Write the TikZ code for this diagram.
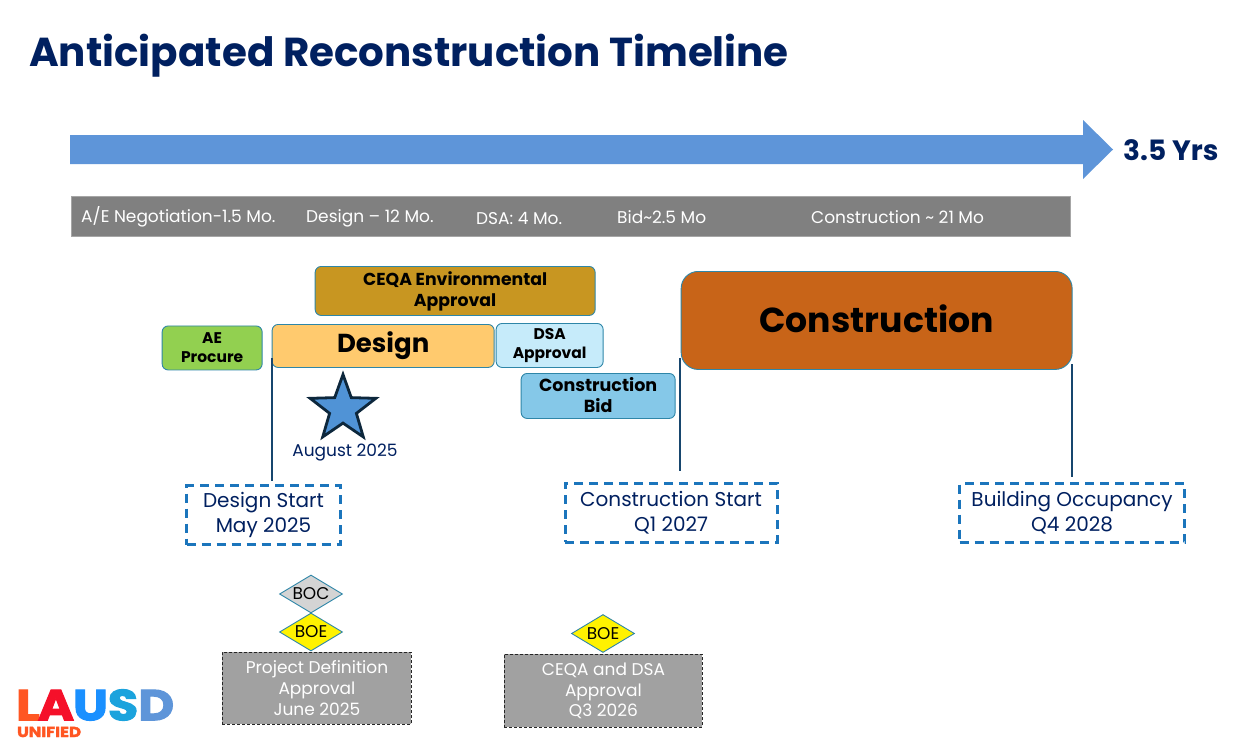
\documentclass[tikz,border=0pt]{standalone}
\usepackage{fontspec}
\setmainfont{Poppins}
\newfontfamily\fatfont[FakeBold=2.5,FakeStretch=1.14]{Poppins Bold}
\usetikzlibrary{shapes.geometric,shapes.arrows}
\definecolor{navy}{HTML}{002060}
\definecolor{bluearrow}{HTML}{5E95D9}
\definecolor{barg}{HTML}{808080}
\definecolor{edgeb}{HTML}{2E86A8}
\definecolor{linec}{HTML}{17466E}
\definecolor{dashb}{HTML}{1B75BC}
\tikzset{
 x=1pt,y=-1pt,
 phase/.style={draw=edgeb,line width=0.9pt,rounded corners=#1,font=\bfseries,text=black,align=center,inner sep=0pt,anchor=north west},
 phase/.default=6pt,
 milestone/.style={draw=dashb,line width=3pt,outer sep=0pt,dash pattern=on 9pt off 6pt,font=\fontsize{20}{25}\selectfont,text=navy,align=center,inner sep=0pt,anchor=north west},
 approval/.style={draw=black!85,densely dashed,line width=0.9pt,fill=black!37,text=white,font=\fontsize{17}{20.8}\selectfont,align=center,inner sep=0pt,anchor=north west},
 board/.style={diamond,draw=edgeb,line width=0.9pt,aspect=1.66,inner sep=0pt,minimum width=63pt,minimum height=38pt,text=black,font=\fontsize{17}{18}\selectfont},
 barlabel/.style={text=white,font=\fontsize{17}{20}\selectfont,inner sep=0pt},
 tie/.style={draw=linec,line width=1.6pt},
}
\begin{document}
\begin{tikzpicture}
\useasboundingbox (0,0) rectangle (1237,755);
\fill[white] (0,0) rectangle (1237,755);
\node[anchor=west,inner sep=0pt,text=navy,font=\bfseries\fontsize{40.4}{46}\selectfont] (title) at (29,56) {Anticipated Reconstruction Timeline};
\fill[bluearrow] (70,135) -- (1083,135) -- (1083,120) -- (1113,149.5) -- (1083,179) -- (1083,164) -- (70,164) -- cycle;
\node[anchor=west,inner sep=0pt,text=navy,font=\fontsize{28}{32}\selectfont\bfseries] (yrs) at (1123,150) {3.5 Yrs};
\node[anchor=north west,inner sep=0pt,draw=black!35,line width=0.6pt,fill=barg,minimum width=999pt,minimum height=40pt] (bar) at (71,195.5) {};
\node[barlabel,anchor=west] (l1) at (81,217) {A/E Negotiation-1.5 Mo.};
\node[barlabel,anchor=west] (l2) at (306,218) {Design – 12 Mo.};
\node[barlabel,anchor=west] (l3) at (476,218) {DSA: 4 Mo.};
\node[barlabel,anchor=west] (l4) at (617,217) {Bid\textasciitilde 2.5 Mo};
\node[barlabel,anchor=west] (l5) at (811,217) {Construction \textasciitilde{} 21 Mo};
% phases
\node[phase,fill={rgb,255:red,200;green,150;blue,33},minimum width=280pt,minimum height=49pt,font=\bfseries\fontsize{17.3}{21}\selectfont] (ceqa) at (314.7,266) {CEQA Environmental\\Approval};
\node[phase,fill={rgb,255:red,146;green,208;blue,80},minimum width=100pt,minimum height=44pt,font=\bfseries\fontsize{15.5}{19}\selectfont] (ae) at (161.7,325.5) {AE\\Procure};
\node[phase,fill={rgb,255:red,255;green,202;blue,110},minimum width=222pt,minimum height=43pt,font=\bfseries\fontsize{26}{30}\selectfont] (design) at (271.7,324) {\raisebox{-2pt}{Design}};
\node[phase,fill={rgb,255:red,198;green,235;blue,250},minimum width=107pt,minimum height=44pt,font=\bfseries\fontsize{15.5}{19}\selectfont] (dsa) at (495.7,323) {\raisebox{-1pt}{DSA}\\\raisebox{-1pt}{Approval}};
\node[phase,fill={rgb,255:red,133;green,200;blue,232},minimum width=154pt,minimum height=45pt,font=\bfseries\fontsize{17.5}{21}\selectfont] (bid) at (520.7,373) {\raisebox{1pt}{Construction}\\\raisebox{1pt}{Bid}};
\node[phase=17pt,fill={rgb,255:red,200;green,100;blue,24},minimum width=391pt,minimum height=98pt,font=\bfseries\fontsize{34.7}{40}\selectfont] (cons) at (680.7,271) {\raisebox{4.5pt}{Construction}};
% star
\node[star,star points=5,star point ratio=2.45,draw=linec!55!black,line width=2.8pt,fill={rgb,255:red,80;green,147;blue,214},inner sep=0pt,minimum size=69pt] (star) at (343,409) {};
\node[inner sep=0pt,text=navy,font=\fontsize{17}{20}\selectfont] (aug) at (345,452.5) {August 2025};
% milestones
\node[milestone,minimum width=154pt,minimum height=59pt] (m1) at (186.5,485.5) {Design Start\\May 2025};
\node[milestone,minimum width=212pt,minimum height=59pt] (m2) at (565,483) {Construction Start\\Q1 2027};
\node[milestone,minimum width=225pt,minimum height=59pt] (m3) at (959.5,483.5) {Building Occupancy\\Q4 2028};
\coordinate (t1a) at (272,358); \coordinate (t1b) at (272,481);
\coordinate (t2a) at (680,358); \coordinate (t2b) at (680,471);
\coordinate (t3a) at (1072,364); \coordinate (t3b) at (1072,477);
\draw[tie] (t1a) -- (t1b);
\draw[tie] (t2a) -- (t2b);
\draw[tie] (t3a) -- (t3b);
% boards
\node[board,fill=black!17] (boc) at (311,594) {BOC};
\node[board,fill=yellow] (boe1) at (311,632) {BOE};
\node[board,fill=yellow] (boe2) at (603,633.5) {BOE};
\node[approval,minimum width=189pt,minimum height=72pt] (a1) at (222,652) {\raisebox{1pt}{Project Definition}\\\raisebox{1pt}{Approval}\\\raisebox{1pt}{June 2025}};
\node[approval,minimum width=198pt,minimum height=73pt] (a2) at (504,654) {CEQA and DSA\\Approval\\Q3 2026};
% logo
\node[anchor=west,inner sep=0pt,font=\fatfont\fontsize{43.3}{44}\selectfont] (logo) at (16,705) {\textcolor[HTML]{FF5622}{L}\kern-2pt\textcolor[HTML]{F5102A}{A}\kern-1pt\textcolor[HTML]{1A90FF}{U}\textcolor[HTML]{1BA3DD}{S}\textcolor[HTML]{5E95D9}{D}};
\node[anchor=west,inner sep=0pt,font=\fatfont\fontsize{14.5}{15}\selectfont,text={rgb,255:red,255;green,86;blue,34}] (uni) at (17,732) {UNIFIED};
\end{tikzpicture}
\end{document}
